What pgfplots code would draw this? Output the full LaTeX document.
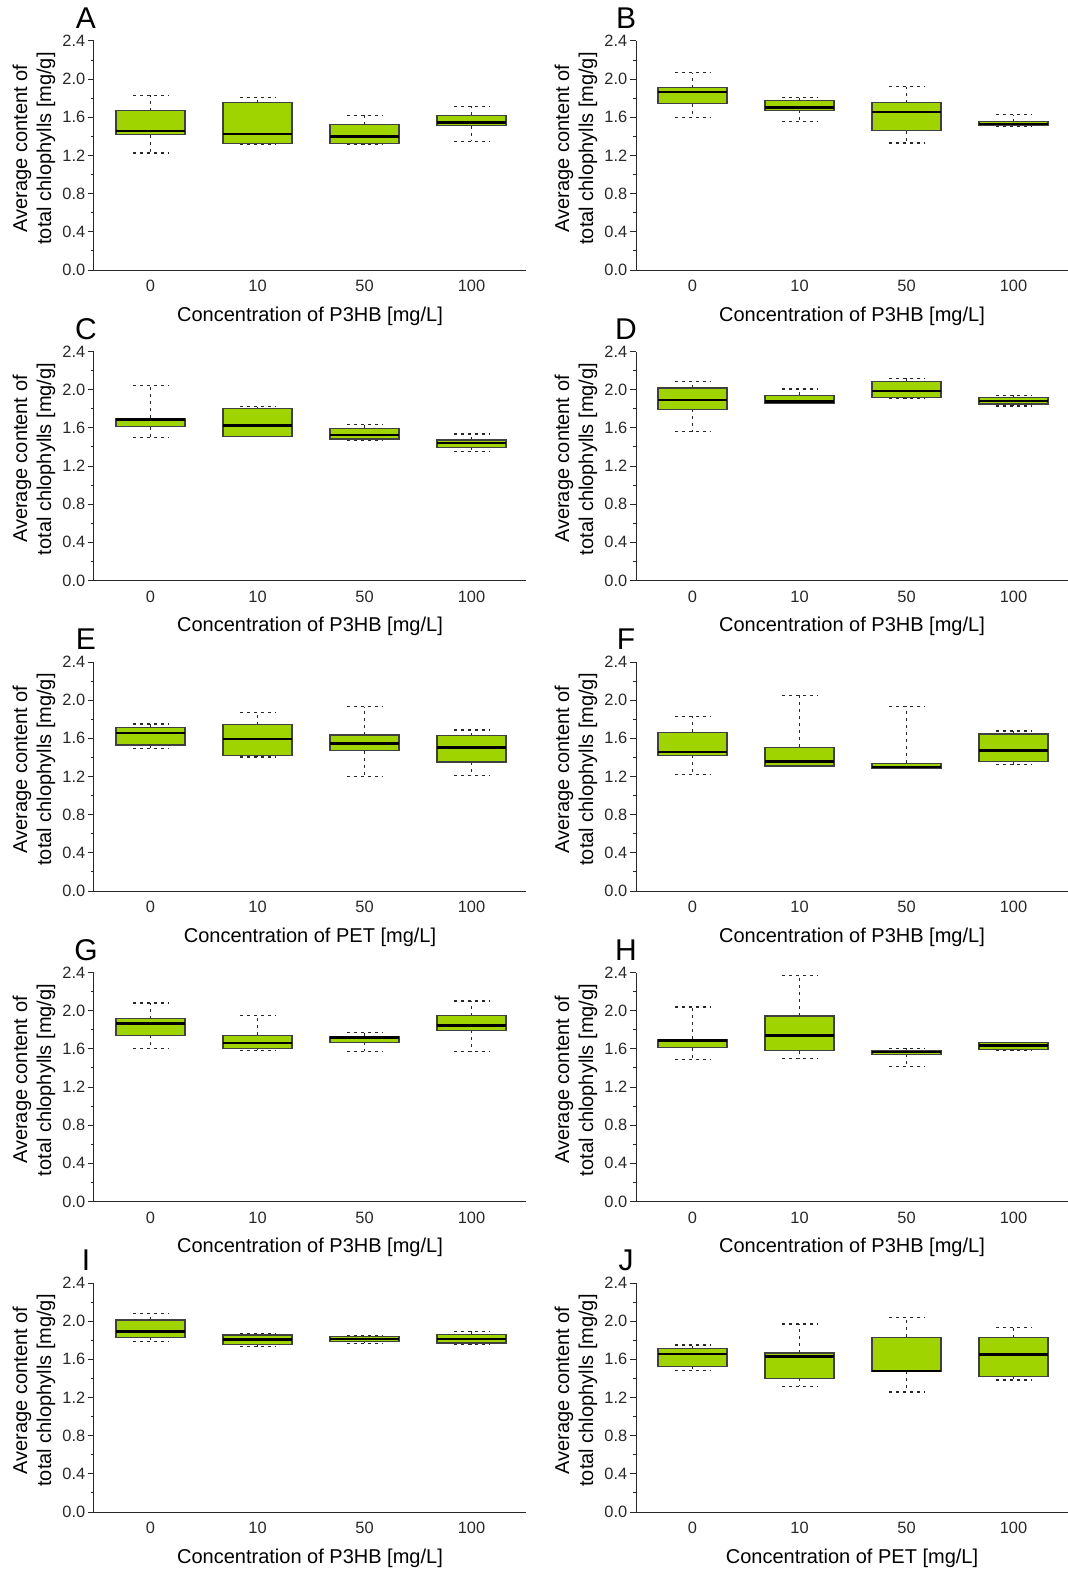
\documentclass[border=0pt]{standalone}
\usepackage{fontspec}
\setmainfont{Liberation Sans}
\usepackage{pgfplots}
\pgfplotsset{compat=1.18}
\usepgfplotslibrary{statistics}

\definecolor{boxgreen}{RGB}{160,212,0}
\definecolor{boxedge}{RGB}{64,64,64}
\definecolor{axisgray}{RGB}{40,40,40}

% one prepared box: position, lower whisker, lower quartile, median, upper quartile, upper whisker
\newcommand{\bx}[6]{\addplot[mark=none, boxplot prepared={draw position=#1, lower whisker=#2, lower quartile=#3, median=#4, upper quartile=#5, upper whisker=#6}] coordinates {};}

\tikzset{letter/.style={font=\fontsize{15}{15}\selectfont, inner sep=0pt, yshift=1.2pt}}

\pgfplotsset{
  panel/.style={
    scale only axis, width=216pt, height=114.5pt, anchor=south west,
    xmin=0.472, xmax=4.509, ymin=0, ymax=2.4,
    axis x line*=bottom, axis y line*=left,
    axis line style={-, draw=axisgray, line width=0.5pt},
    xtick={1,2,3,4}, xticklabels={0,10,50,100},
    x tick style={draw=none},
    ytick={0,0.4,0.8,1.2,1.6,2.0,2.4}, minor y tick num=1,
    y tick style={draw=axisgray, line width=0.5pt},
    tick align=outside, major tick length=3pt, minor tick length=1.6pt,
    yticklabel style={xshift=-0.6pt, inner sep=0.6pt, /pgf/number format/.cd, fixed, fixed zerofill, precision=1},
    /pgf/number format/assume math mode=true,
    tick label style={font=\fontsize{8.2}{9}\selectfont, text=axisgray},
    xticklabel style={yshift=1.5pt},
    label style={font=\fontsize{10.8}{12.6}\selectfont},
    ylabel={Average content of\\total chlophylls [mg/g]},
    every axis y label/.style={at={(axis description cs:0,0.5)}, shift={(-30pt,3.5pt)}, rotate=90, anchor=center, align=center},
    every axis x label/.style={at={(axis description cs:0.5,0)}, yshift=-23pt, anchor=center},
    boxplot/draw direction=y,
    boxplot/box extend=0.645,
    boxplot/whisker extend=0.33,
    boxplot/every box/.style={draw=boxedge, fill=boxgreen, line width=0.6pt},
    boxplot/every median/.style={black, line width=1.2pt},
    boxplot/every whisker/.style={axisgray, line width=0.6pt, dash pattern=on 1.5pt off 2pt},
  }
}

\begin{document}
\begin{tikzpicture}
\useasboundingbox (0,0) rectangle (533.5pt,-786.5pt);

% ---------- row 1 ----------
\begin{axis}[panel, at={(47pt,-135pt)}, xlabel={Concentration of P3HB [mg/L]}]
\bx{1}{1.226}{1.417}{1.459}{1.668}{1.832}
\bx{2}{1.320}{1.327}{1.424}{1.755}{1.804}
\bx{3}{1.313}{1.323}{1.400}{1.522}{1.623}
\bx{4}{1.348}{1.511}{1.546}{1.620}{1.717}
\end{axis}
\node[letter] at (43pt,-10.5pt) {A};

\begin{axis}[panel, at={(318pt,-135pt)}, xlabel={Concentration of P3HB [mg/L]}]
\bx{1}{1.599}{1.741}{1.863}{1.912}{2.069}
\bx{2}{1.557}{1.672}{1.703}{1.776}{1.808}
\bx{3}{1.330}{1.459}{1.658}{1.755}{1.919}
\bx{4}{1.508}{1.515}{1.532}{1.553}{1.627}
\end{axis}
\node[letter] at (313pt,-10.5pt) {B};

% ---------- row 2 ----------
\begin{axis}[panel, at={(47pt,-290.25pt)}, xlabel={Concentration of P3HB [mg/L]}]
\bx{1}{1.498}{1.613}{1.686}{1.700}{2.041}
\bx{2}{1.510}{1.511}{1.626}{1.804}{1.822}
\bx{3}{1.470}{1.484}{1.522}{1.595}{1.633}
\bx{4}{1.348}{1.397}{1.438}{1.473}{1.536}
\end{axis}
\node[letter] at (43pt,-165.75pt) {C};

\begin{axis}[panel, at={(318pt,-290.25pt)}, xlabel={Concentration of P3HB [mg/L]}]
\bx{1}{1.560}{1.794}{1.891}{2.017}{2.086}
\bx{2}{1.853}{1.860}{1.874}{1.940}{2.006}
\bx{3}{1.912}{1.916}{1.985}{2.086}{2.118}
\bx{4}{1.829}{1.849}{1.884}{1.919}{1.940}
\end{axis}
\node[letter] at (313pt,-165.75pt) {D};

% ---------- row 3 ----------
\begin{axis}[panel, at={(47pt,-445.5pt)}, xlabel={Concentration of PET [mg/L]}]
\bx{1}{1.496}{1.530}{1.659}{1.715}{1.750}
\bx{2}{1.405}{1.416}{1.593}{1.743}{1.875}
\bx{3}{1.200}{1.471}{1.544}{1.635}{1.930}
\bx{4}{1.214}{1.353}{1.503}{1.628}{1.687}
\end{axis}
\node[letter] at (43pt,-321pt) {E};

\begin{axis}[panel, at={(318pt,-445.5pt)}, xlabel={Concentration of P3HB [mg/L]}]
\bx{1}{1.224}{1.423}{1.454}{1.663}{1.833}
\bx{2}{1.301}{1.311}{1.357}{1.506}{2.049}
\bx{3}{1.280}{1.290}{1.301}{1.339}{1.937}
\bx{4}{1.322}{1.357}{1.471}{1.645}{1.677}
\end{axis}
\node[letter] at (313pt,-321pt) {F};

% ---------- row 4 ----------
\begin{axis}[panel, at={(47pt,-600.75pt)}, xlabel={Concentration of P3HB [mg/L]}]
\bx{1}{1.600}{1.740}{1.867}{1.916}{2.081}
\bx{2}{1.586}{1.603}{1.663}{1.744}{1.947}
\bx{3}{1.575}{1.670}{1.719}{1.733}{1.775}
\bx{4}{1.575}{1.796}{1.846}{1.947}{2.102}
\end{axis}
\node[letter] at (43pt,-476.25pt) {G};

\begin{axis}[panel, at={(318pt,-600.75pt)}, xlabel={Concentration of P3HB [mg/L]}]
\bx{1}{1.491}{1.614}{1.688}{1.702}{2.039}
\bx{2}{1.502}{1.579}{1.740}{1.944}{2.368}
\bx{3}{1.411}{1.544}{1.568}{1.582}{1.607}
\bx{4}{1.579}{1.596}{1.635}{1.667}{1.670}
\end{axis}
\node[letter] at (313pt,-476.25pt) {H};

% ---------- row 5 ----------
\begin{axis}[panel, at={(47pt,-756pt)}, xlabel={Concentration of P3HB [mg/L]}]
\bx{1}{1.785}{1.830}{1.890}{2.012}{2.078}
\bx{2}{1.732}{1.753}{1.806}{1.855}{1.865}
\bx{3}{1.767}{1.788}{1.816}{1.841}{1.848}
\bx{4}{1.753}{1.771}{1.816}{1.862}{1.893}
\end{axis}
\node[letter] at (43pt,-631.5pt) {I};

\begin{axis}[panel, at={(318pt,-756pt)}, xlabel={Concentration of PET [mg/L]}]
\bx{1}{1.484}{1.529}{1.659}{1.711}{1.750}
\bx{2}{1.316}{1.400}{1.631}{1.666}{1.970}
\bx{3}{1.257}{1.473}{1.478}{1.830}{2.040}
\bx{4}{1.383}{1.421}{1.652}{1.827}{1.935}
\end{axis}
\node[letter] at (313pt,-631.5pt) {J};

\end{tikzpicture}
\end{document}
